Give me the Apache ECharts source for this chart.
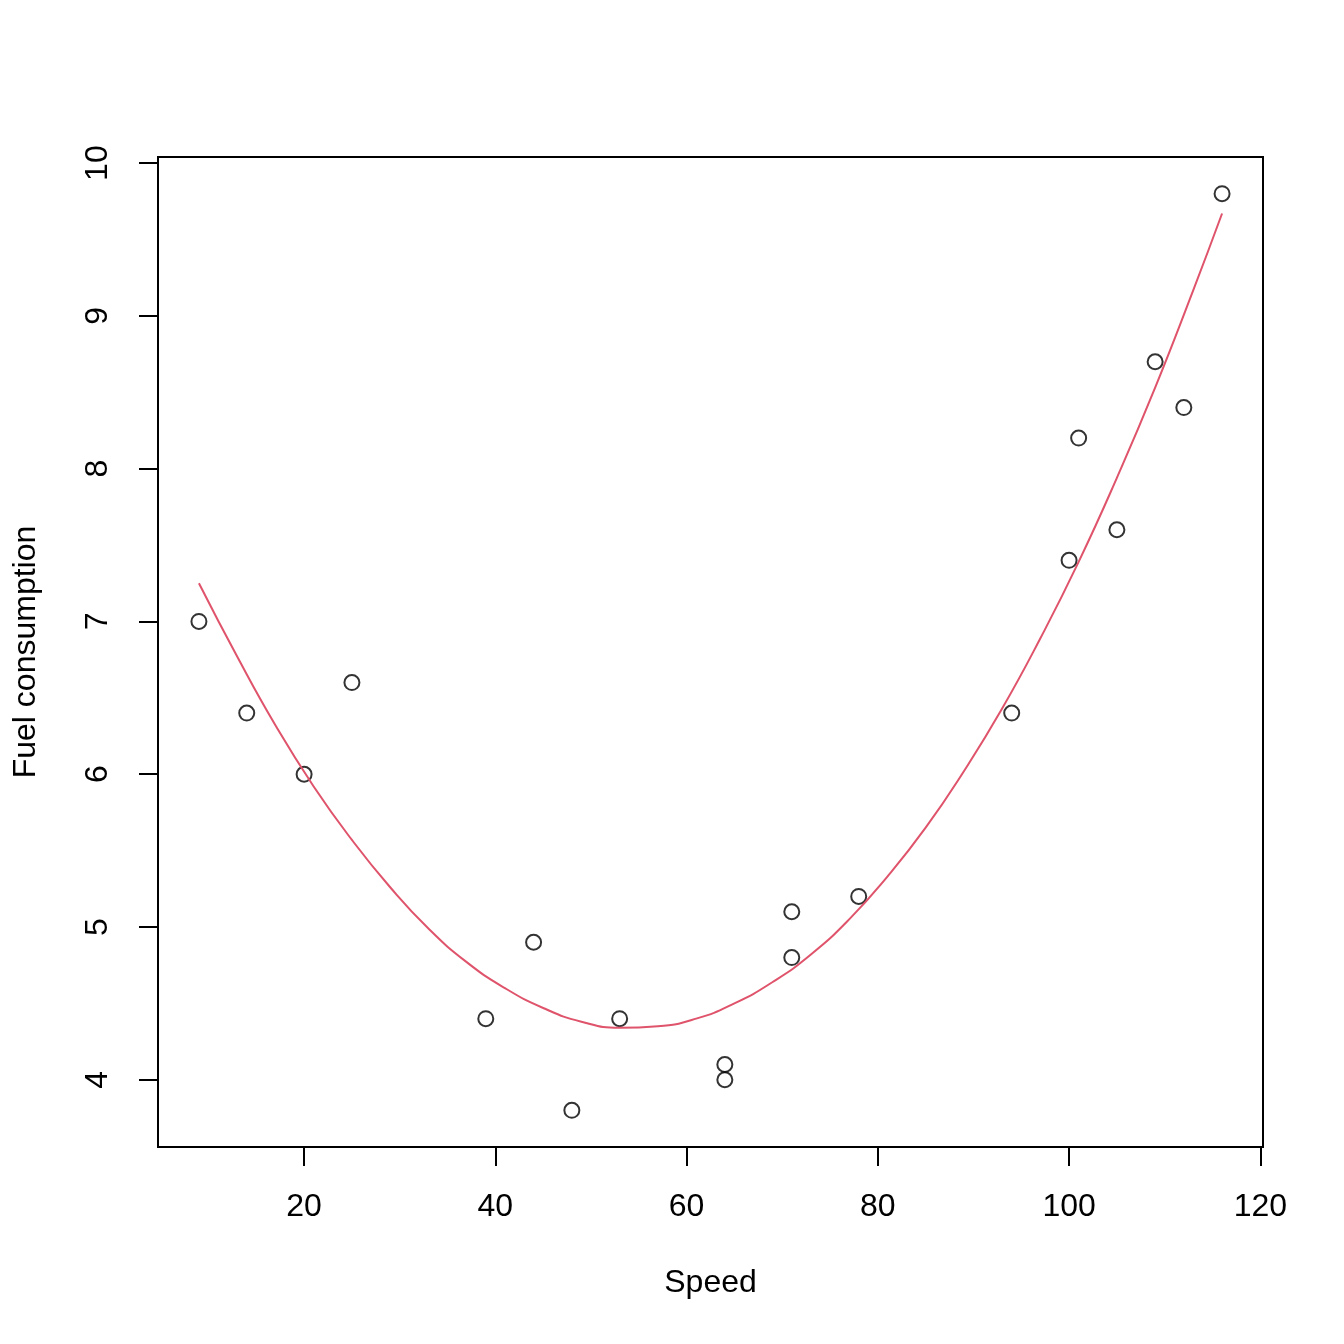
<!DOCTYPE html>
<html lang="en">
<head>
    <meta charset="UTF-8">
    <title>Fuel consumption vs Speed</title>
    <script src="https://cdn.jsdelivr.net/npm/echarts@6.0.0/dist/echarts.min.js"></script>
    <style>
        html, body { margin: 0; padding: 0; background: #fff; }
    </style>
</head>
<body>
    <div id="main" style="width: 1344px;height:1344px;"></div>
    <script>
        // observed points
        const speed = [9, 14, 20, 25, 39, 44, 48, 53, 64, 64, 71, 71, 78, 94, 100, 101, 105, 109, 112, 116];
        const fuel = [7.0, 6.4, 6.0, 6.6, 4.4, 4.9, 3.8, 4.4, 4.1, 4.0, 5.1, 4.8, 5.2, 6.4, 7.4, 8.2, 7.6, 8.7, 8.4, 9.8];

        // fitted curve
        const curveX = [9, 13, 17, 21, 25, 29, 33, 37, 41, 45, 49, 53, 57, 61, 65, 69, 73, 77, 81, 85, 89, 93, 97, 101, 105, 109, 113, 116];
        const curveY = [7.25, 6.77, 6.32, 5.92, 5.57, 5.26, 4.99, 4.77, 4.60, 4.47, 4.38, 4.34, 4.35, 4.40, 4.50, 4.64, 4.82, 5.05, 5.33, 5.65, 6.02, 6.43, 6.89, 7.39, 7.94, 8.53, 9.17, 9.67];

        const xTicks = [20, 40, 60, 80, 100, 120];
        const yTicks = [4, 5, 6, 7, 8, 9, 10];

        const font = 'Liberation Sans, Arial, Helvetica, sans-serif';

        var chart = echarts.init(document.getElementById('main'));

        var option = {
            animation: false,
            backgroundColor: '#fff',
            grid: {
                left: 158, right: 81, top: 157, bottom: 197,
                show: true,
                borderColor: '#000',
                borderWidth: 2
            },
            xAxis: {
                type: 'value',
                min: 4.72,
                max: 120.28,
                name: 'Speed',
                nameLocation: 'middle',
                nameGap: 120,
                nameTextStyle: { fontSize: 32, color: '#000', fontFamily: font },
                axisLine: { show: false },
                splitLine: { show: false },
                axisTick: {
                    show: true,
                    customValues: xTicks,
                    length: 19,
                    lineStyle: { color: '#000', width: 2 }
                },
                axisLabel: {
                    customValues: xTicks,
                    fontSize: 32,
                    color: '#000',
                    fontFamily: font,
                    margin: 44
                }
            },
            yAxis: {
                type: 'value',
                min: 3.56,
                max: 10.04,
                name: 'Fuel consumption',
                nameLocation: 'middle',
                nameGap: 116,
                nameRotate: 90,
                nameTextStyle: { fontSize: 32, color: '#000', fontFamily: font },
                axisLine: { show: false },
                splitLine: { show: false },
                axisTick: {
                    show: true,
                    customValues: yTicks,
                    length: 19,
                    lineStyle: { color: '#000', width: 2 }
                },
                axisLabel: {
                    customValues: yTicks,
                    rotate: 90,
                    fontSize: 32,
                    color: '#000',
                    fontFamily: font,
                    margin: 44
                }
            },
            series: [
                {
                    type: 'scatter',
                    data: speed.map((s, i) => [s, fuel[i]]),
                    symbol: 'circle',
                    symbolSize: 15,
                    itemStyle: {
                        color: 'rgba(0,0,0,0)',
                        borderColor: '#000',
                        borderWidth: 2
                    },
                    z: 2
                },
                {
                    type: 'line',
                    data: curveX.map((x, i) => [x, curveY[i]]),
                    smooth: true,
                    showSymbol: false,
                    lineStyle: { color: '#DF536B', width: 2 },
                    z: 3
                }
            ]
        };

        chart.setOption(option);
    </script>
</body>
</html>
